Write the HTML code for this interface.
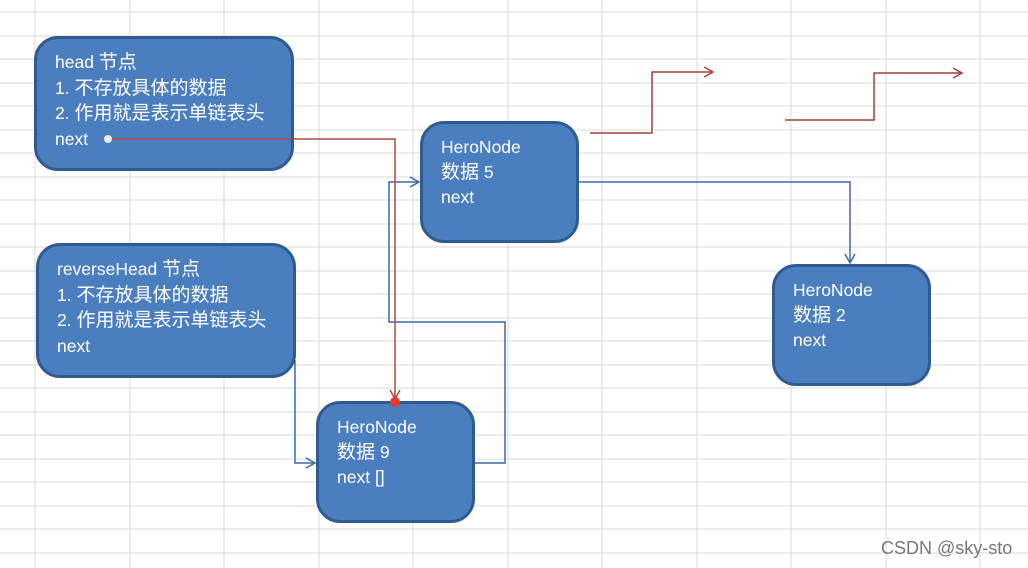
<!DOCTYPE html>
<html><head><meta charset="utf-8"><style>
body{margin:0;width:1028px;height:568px;overflow:hidden;background:#fff;position:relative;font-family:"Liberation Sans","Noto Sans CJK SC",sans-serif}
.n{position:absolute;box-sizing:border-box;background:#4a7ebf;border:3px solid #2f5a92;border-radius:24px;color:#fff;font-size:17.5px;line-height:24.5px;padding:11px 0 0 18px;white-space:nowrap}
.n span{font-size:19px}
svg{position:absolute;left:0;top:0}
.wm{position:absolute;left:881px;top:538px;font-size:18px;color:#777}
</style></head><body>
<svg width="1028" height="568">
<g stroke="#d8d8d8" stroke-width="1">
<line x1="35" y1="0" x2="35" y2="568"/><line x1="130" y1="0" x2="130" y2="568"/><line x1="224" y1="0" x2="224" y2="568"/><line x1="319" y1="0" x2="319" y2="568"/><line x1="413" y1="0" x2="413" y2="568"/><line x1="508" y1="0" x2="508" y2="568"/><line x1="602" y1="0" x2="602" y2="568"/><line x1="697" y1="0" x2="697" y2="568"/><line x1="791" y1="0" x2="791" y2="568"/><line x1="886" y1="0" x2="886" y2="568"/><line x1="980" y1="0" x2="980" y2="568"/>
<line x1="0" y1="12" x2="1028" y2="12"/><line x1="0" y1="36" x2="1028" y2="36"/><line x1="0" y1="59" x2="1028" y2="59"/><line x1="0" y1="83" x2="1028" y2="83"/><line x1="0" y1="106" x2="1028" y2="106"/><line x1="0" y1="130" x2="1028" y2="130"/><line x1="0" y1="153" x2="1028" y2="153"/><line x1="0" y1="177" x2="1028" y2="177"/><line x1="0" y1="200" x2="1028" y2="200"/><line x1="0" y1="224" x2="1028" y2="224"/><line x1="0" y1="247" x2="1028" y2="247"/><line x1="0" y1="271" x2="1028" y2="271"/><line x1="0" y1="294" x2="1028" y2="294"/><line x1="0" y1="318" x2="1028" y2="318"/><line x1="0" y1="341" x2="1028" y2="341"/><line x1="0" y1="365" x2="1028" y2="365"/><line x1="0" y1="388" x2="1028" y2="388"/><line x1="0" y1="412" x2="1028" y2="412"/><line x1="0" y1="435" x2="1028" y2="435"/><line x1="0" y1="459" x2="1028" y2="459"/><line x1="0" y1="482" x2="1028" y2="482"/><line x1="0" y1="506" x2="1028" y2="506"/><line x1="0" y1="529" x2="1028" y2="529"/><line x1="0" y1="553" x2="1028" y2="553"/>
</g>
<g fill="none" stroke-width="1.5">
<polyline stroke="#a0403a" points="590,133 652,133 652,72 712,72"/><polyline stroke="#a0403a" points="704,67 713,72 704,77"/>
<polyline stroke="#a0403a" points="785,120 874,120 874,73 961,73"/><polyline stroke="#a0403a" points="953,68 962,73 953,78"/>
<polyline stroke="#3d6aa5" points="578,182 850,182 850,262"/><polyline stroke="#3d6aa5" points="845,254 850,263 855,254"/>
<polyline stroke="#3d6aa5" points="474,463 505,463 505,322 389,322 389,182 418,182"/><polyline stroke="#3d6aa5" points="410,177 419,182 410,187"/>
<polyline stroke="#3d6aa5" points="295,360 295,463 314,463"/><polyline stroke="#3d6aa5" points="306,458 315,463 306,468"/>
</g>
</svg>
<div class="n" style="left:34px;top:36px;width:260px;height:135px">head <span>节点</span><br>1. <span>不存放具体的数据</span><br>2. <span>作用就是表示单链表头</span><br>next</div>
<div class="n" style="left:36px;top:243px;width:260px;height:135px">reverseHead <span>节点</span><br>1. <span>不存放具体的数据</span><br>2. <span>作用就是表示单链表头</span><br>next</div>
<div class="n" style="left:420px;top:121px;width:159px;height:122px">HeroNode<br><span>数据</span> 5<br>next</div>
<div class="n" style="left:772px;top:264px;width:159px;height:122px">HeroNode<br><span>数据</span> 2<br>next</div>
<div class="n" style="left:316px;top:401px;width:159px;height:122px">HeroNode<br><span>数据</span> 9<br>next []</div>
<svg width="1028" height="568">
<polyline fill="none" stroke="#b04a3f" stroke-width="1.5" points="108,139 395,139 395,398"/>
<polyline fill="none" stroke="#b04a3f" stroke-width="1.5" points="390,390 395,399 400,390"/>
<circle cx="108" cy="139" r="4" fill="#e8eef8"/>
<circle cx="395" cy="402" r="5" fill="#e8392c"/>
</svg>
<div class="wm">CSDN @sky-sto</div>
</body></html>
